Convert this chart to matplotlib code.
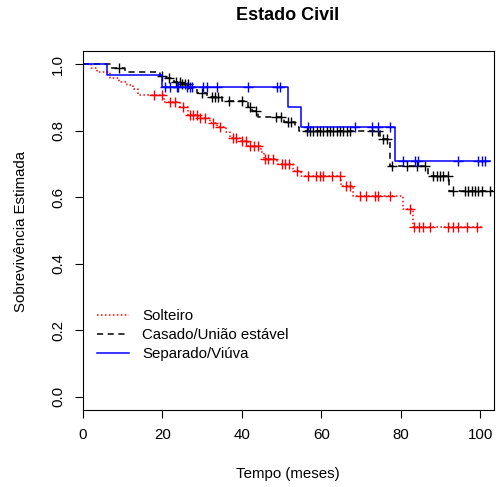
import numpy as np
import matplotlib
matplotlib.use("Agg")
import matplotlib.pyplot as plt
from matplotlib.lines import Line2D

plt.rcParams['font.family'] = ['Liberation Sans', 'DejaVu Sans']

title = "Estado Civil"
xlabel = "Tempo (meses)"
ylabel = "Sobrevivência Estimada"
groups = ["Solteiro", "Casado/União estável", "Separado/Viúva"]
colors = ["#FF0000", "#000000", "#0000FF"]
styles = [(0, (1, 1.6)), (0, (4, 3)), "-"]
xticks = [0, 20, 40, 60, 80, 100]
yticks = [0.0, 0.2, 0.4, 0.6, 0.8, 1.0]

# Solteiro
red_event_t = [2, 3.4, 6.8, 9, 11, 12.5, 13.9, 20.5, 24.5, 26.5, 29, 32, 33.8, 36, 37,
               39.5, 41.5, 44.8, 45.5, 48.8, 53, 55, 65, 68, 80.5, 83]
red_surv = [0.988, 0.978, 0.958, 0.948, 0.938, 0.925, 0.908, 0.888, 0.873, 0.848, 0.838,
            0.823, 0.811, 0.795, 0.778, 0.768, 0.755, 0.735, 0.715, 0.70, 0.678, 0.663,
            0.635, 0.605, 0.565, 0.51]
red_cens = [18, 20, 21.9, 23.2, 25.2, 27, 27.7, 28.7, 29.5, 30.7, 32.7, 34.5, 37.8, 38.5,
            40, 41, 42, 43, 44, 45.8, 46.6, 47.9, 50, 50.9, 52, 54, 56.7, 58.7, 59.7,
            60.5, 62.7, 64.7, 66.2, 67.3, 69.8, 71.3, 73.5, 74.3, 77.3, 82.4, 83.4, 84.6,
            85.6, 87.4, 91.9, 93.2, 94.5, 96.7, 99.2]
red_end = 100.5

# Casado/União estável
blk_event_t = [7, 10.5, 19.3, 20.8, 23, 24.8, 26.6, 28.8, 31.2, 35, 41.5, 42.5, 44,
               50.5, 53.5, 54.5, 74.8, 77.3, 87, 92.2]
blk_surv = [0.988, 0.977, 0.965, 0.958, 0.948, 0.94, 0.928, 0.915, 0.903, 0.89, 0.873,
            0.858, 0.841, 0.825, 0.811, 0.798, 0.775, 0.695, 0.663, 0.618]
blk_cens = [9, 19.8, 21.7, 23.4, 24.4, 24.9, 25.7, 26.4, 30, 32.5, 33.2, 34, 36.8, 40,
            42, 43.6, 48.5, 49.8, 51.6, 52.4, 56.4, 57.2, 58.0, 59.0, 59.7, 60.5, 61.5,
            62.3, 63.0, 64.0, 64.7, 65.5, 66.5, 67.3, 72.8, 74.3, 75.6, 76.6, 77.8, 81.6,
            84.1, 86.1, 88.2, 89.2, 89.9, 90.7, 91.9, 93.2, 96.2, 97, 98, 98.7, 99.5,
            100.5, 102.5]
blk_end = 103.3

# Separado/Viúva
blu_event_t = [6, 20, 51.6, 54.8, 78.6]
blu_surv = [0.967, 0.932, 0.873, 0.81, 0.71]
blu_cens = [20.7, 21.9, 23.7, 23.9, 26.2, 27.0, 27.5, 30.2, 31.2, 33.8, 41.6, 48.9, 49.6,
            56.7, 68.5, 72.8, 74.3, 77.3, 80.6, 83.6, 84.4, 94.5, 99.5, 100.5, 101.3]
blu_end = 102.5

data = [(red_event_t, red_surv, red_cens, red_end),
        (blk_event_t, blk_surv, blk_cens, blk_end),
        (blu_event_t, blu_surv, blu_cens, blu_end)]

W, H = 496, 487
fig = plt.figure(figsize=(W / 100, H / 100), dpi=100)
ax = fig.add_axes([83 / W, 1 - 410 / H, 411 / W, 359 / H])

for (et, sv, ct, end), col, ls in zip(data, colors, styles):
    t = np.concatenate([[0], et, [end]])
    s = np.concatenate([[1.0], sv, [sv[-1]]])
    ax.step(t, s, where='post', color=col, linestyle=ls, lw=1.1)
    et_a = np.array(et)
    sv_full = np.concatenate([[1.0], sv])
    idx = np.searchsorted(et_a, np.array(ct), side='right')
    ax.plot(ct, sv_full[idx], linestyle='none', marker='+', color=col,
            markersize=7.5, markeredgewidth=1.0)

ax.set_xlim(0, 103.5)
ax.set_ylim(-0.04, 1.04)
ax.set_xticks(xticks)
ax.set_xticklabels([str(v) for v in xticks])
ax.set_yticks(yticks)
ax.set_yticklabels([f"{v:.1f}" for v in yticks], rotation=90, va='center')
ax.tick_params(axis='both', direction='out', length=6, width=0.8, labelsize=10.8,
               colors='#000000')
ax.tick_params(axis='x', pad=7)
ax.tick_params(axis='y', pad=7)
for sp in ax.spines.values():
    sp.set_linewidth(0.8)

fig.text(288 / W, 1 - 15 / H, title, ha='center', va='center',
         fontsize=13, fontweight='bold')
fig.text(288 / W, 1 - 474 / H, xlabel, ha='center', va='center', fontsize=10.8)
fig.text(21 / W, 1 - 231 / H, ylabel, ha='center', va='center', fontsize=10.8,
         rotation=90)

handles = [Line2D([], [], color=c, linestyle=l, lw=1.1) for c, l in zip(colors, styles)]
fig.legend(handles, groups, loc='upper left',
           bbox_to_anchor=(97 / W, 1 - 309 / H), frameon=False, fontsize=10.8,
           handlelength=2.1, handletextpad=0.9, labelspacing=0.33,
           borderpad=0, borderaxespad=0)

fig.savefig("out.png", dpi=100)
